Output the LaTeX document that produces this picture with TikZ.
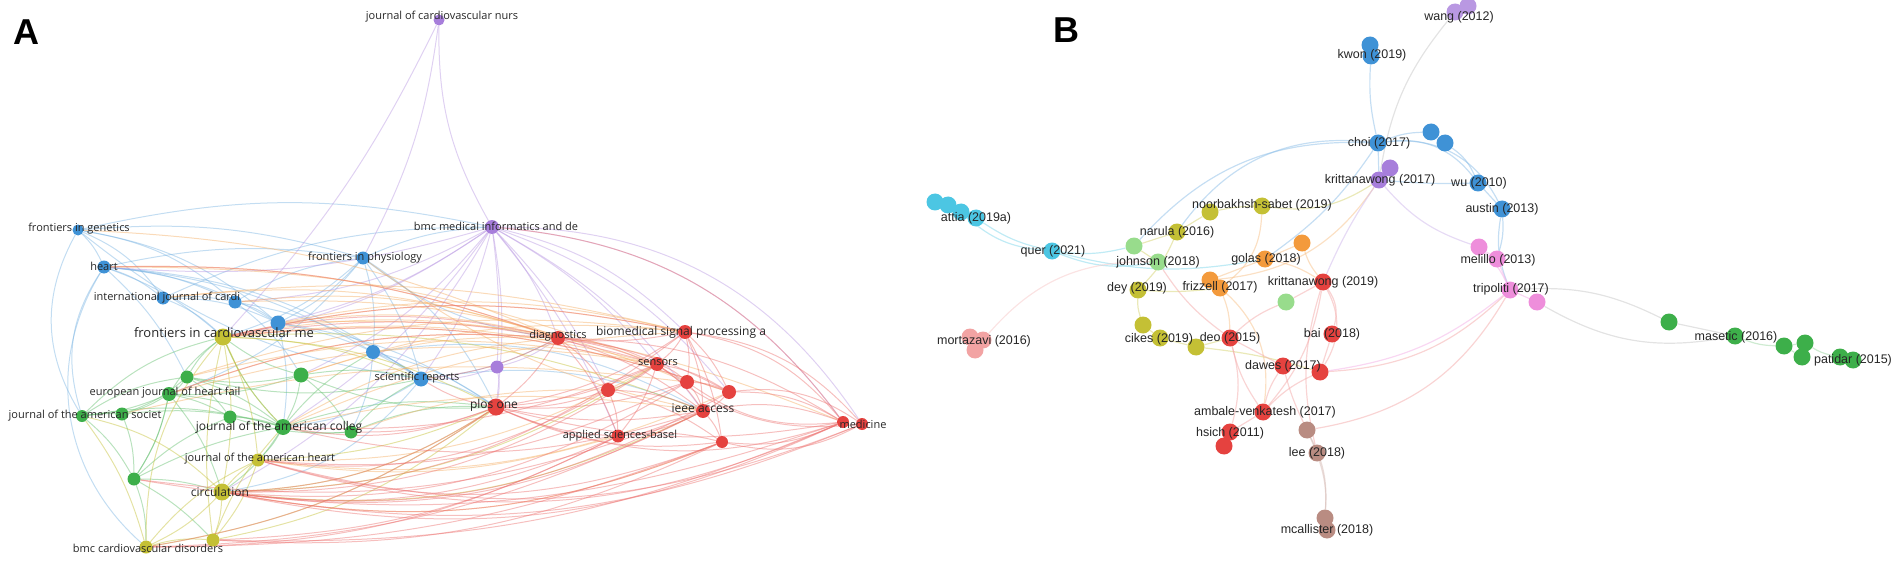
\documentclass[tikz,border=0pt]{standalone}
\usepackage{fontspec}
\setmainfont{Open Sans}
\newfontfamily\arialf{Liberation Sans}
\usetikzlibrary{backgrounds}
\definecolor{cRed}{HTML}{E5423F}
\definecolor{cGreen}{HTML}{3DAF4A}
\definecolor{cBlue}{HTML}{3F92D6}
\definecolor{cYel}{HTML}{C4C035}
\definecolor{cPur}{HTML}{A77EDB}
\definecolor{cOra}{HTML}{F39A3C}
\definecolor{cCyan}{HTML}{4CC6E3}
\definecolor{cLGreen}{HTML}{98DC8C}
\definecolor{cPink}{HTML}{EE8EDB}
\definecolor{cBrown}{HTML}{B98C82}
\definecolor{cSalmon}{HTML}{F2A3A3}
\definecolor{cGrey}{HTML}{C8C8C8}
\definecolor{txt}{HTML}{262626}
\tikzset{
  nd/.style={circle, inner sep=0pt, minimum size=#1},
  ea/.style={line width=1pt, opacity=0.45},
  eb/.style={line width=1.2pt, opacity=0.5},
  labA/.style={font=\fontsize{#1}{#1}\selectfont, text=txt, inner sep=0pt},
  labB/.style={font=\arialf\fontsize{12.5}{12.5}\selectfont, text=txt, inner sep=0pt},
  panel/.style={font=\arialf\bfseries\fontsize{36}{36}\selectfont, text=black, inner sep=0pt}
}
\begin{document}
\begin{tikzpicture}[x=1pt,y=-1pt]
\useasboundingbox (0,0) rectangle (1900,564);
% ---------------- Panel A nodes ----------------
\node[nd=11, fill=cPur] (jcn) at (439,20) {};
\node[nd=11, fill=cBlue] (fig) at (78,230) {};
\node[nd=13, fill=cBlue] (heart) at (104,267) {};
\node[nd=13, fill=cBlue] (fphys) at (363,258) {};
\node[nd=14, fill=cPur] (bmcmi) at (492,227) {};
\node[nd=13, fill=cBlue] (ijc1) at (163,298) {};
\node[nd=13, fill=cBlue] (ijc2) at (235,302) {};
\node[nd=15, fill=cBlue] (b1) at (278,323) {};
\node[nd=17, fill=cYel] (fcm) at (223,337) {};
\node[nd=14, fill=cBlue] (b2) at (373,352) {};
\node[nd=15, fill=cBlue] (sr) at (421,379) {};
\node[nd=13, fill=cGreen] (g1) at (187,377) {};
\node[nd=15, fill=cGreen] (g2) at (301,375) {};
\node[nd=14, fill=cGreen] (ejhf) at (169,394) {};
\node[nd=12, fill=cGreen] (jas1) at (82,416) {};
\node[nd=13, fill=cGreen] (jas2) at (122,414) {};
\node[nd=13, fill=cGreen] (g3) at (230,417) {};
\node[nd=16, fill=cGreen] (jacc) at (283,427) {};
\node[nd=13, fill=cGreen] (g4) at (351,432) {};
\node[nd=13, fill=cYel] (jah) at (258,460) {};
\node[nd=13, fill=cGreen] (g5) at (134,479) {};
\node[nd=17, fill=cYel] (circ) at (222,492) {};
\node[nd=13, fill=cYel] (bmccd) at (146,547) {};
\node[nd=13, fill=cYel] (y2) at (213,540) {};
\node[nd=14, fill=cRed] (diag) at (558,338) {};
\node[nd=14, fill=cRed] (bsp) at (685,332) {};
\node[nd=13, fill=cPur] (p1) at (497,367) {};
\node[nd=14, fill=cRed] (sens) at (657,364) {};
\node[nd=14, fill=cRed] (r1) at (687,382) {};
\node[nd=14, fill=cRed] (r2) at (608,390) {};
\node[nd=14, fill=cRed] (r3) at (729,392) {};
\node[nd=17, fill=cRed] (plos) at (496,407) {};
\node[nd=14, fill=cRed] (ieee) at (703,411) {};
\node[nd=13, fill=cRed] (asb) at (618,436) {};
\node[nd=12, fill=cRed] (r4) at (722,442) {};
\node[nd=12, fill=cRed] (med1) at (843,422) {};
\node[nd=12, fill=cRed] (med2) at (862,424) {};
% ---------------- Panel A edges ----------------
\begin{scope}[on background layer]
\foreach \s/\t/\b in {fig/heart/10, fig/ijc1/15, fig/ijc2/15, fig/b1/15, fig/fphys/10, fig/bmcmi/12, heart/ijc1/10, heart/ijc2/10, heart/b1/12, heart/fcm/10, heart/sr/15, heart/b2/12, heart/bmccd/-40, heart/jas1/-25, ijc1/ijc2/8, ijc1/fcm/10, ijc1/b1/12, ijc2/b1/10, ijc2/fphys/12, ijc2/sr/12, b1/fphys/-10, b1/sr/10, b1/plos/12, fphys/b2/10, fphys/sr/10, fphys/bmcmi/10, fphys/plos/15, fphys/diag/-15, fphys/fcm/12, fphys/ejhf/15, b2/sr/8, sr/plos/10, sr/diag/-10, sr/ieee/15, b2/plos/10, heart/g1/10, b1/jacc/10, ijc2/g2/10, sr/jacc/12, b2/g4/10, fig/sr/-15, heart/fphys/10, ijc1/bmcmi/12, fig/jas1/-30, b2/ieee/18, sr/circ/20}
  {\draw[ea, cBlue!70] (\s) to[bend left=\b] (\t);}
\foreach \s/\t/\b in {jcn/bmcmi/-15, jcn/fphys/10, jcn/fcm/8, bmcmi/b1/10, bmcmi/ijc2/12, bmcmi/sr/10, bmcmi/plos/8, bmcmi/diag/10, bmcmi/bsp/15, bmcmi/sens/10, bmcmi/r2/8, bmcmi/ieee/12, bmcmi/med1/24, bmcmi/r3/15, bmcmi/p1/5, bmcmi/asb/8, bmcmi/jacc/10, bmcmi/fcm/12, bmcmi/circ/15, p1/plos/10, p1/diag/-10, p1/sr/10, bmcmi/heart/10, bmcmi/med2/28, bmcmi/g2/12}
  {\draw[ea, cPur!80] (\s) to[bend left=\b] (\t);}
\foreach \s/\t/\b in {g1/ejhf/10, g1/fcm/10, g1/jacc/10, g1/jas2/10, g1/g3/10, ejhf/jas1/8, ejhf/jas2/8, ejhf/g3/8, ejhf/jacc/10, ejhf/circ/10, ejhf/g5/10, jas1/jas2/5, jas1/g5/10, jas2/g5/10, g5/jacc/8, g5/circ/8, g5/bmccd/10, g5/y2/8, g3/jacc/8, g2/jacc/10, g2/fcm/10, g2/g4/10, g2/sr/10, g4/jacc/8, g4/sr/10, g4/plos/12, jacc/circ/10, jacc/jah/8, jacc/fcm/10, jacc/b2/10, g2/ejhf/10, g2/g1/10, jas1/jacc/12, jas2/jacc/10, g4/g3/10, jacc/plos/12, ejhf/fcm/10, jas1/fcm/15, jas1/g1/12, g5/g3/10, g5/ejhf/-10, g2/plos/-12, g1/sr/-12}
  {\draw[ea, cGreen!80] (\s) to[bend left=\b] (\t);}
\foreach \s/\t/\b in {fcm/circ/10, fcm/jah/10, fcm/jacc/-10, fcm/plos/12, fcm/sr/10, circ/jah/8, circ/bmccd/10, circ/y2/8, bmccd/y2/10, jah/y2/10, jah/plos/-10, circ/plos/-15, circ/sens/-15, circ/ieee/-16, bmccd/jah/12, y2/jacc/10, fcm/ieee/12, bmccd/fcm/20, y2/fcm/10, jas1/circ/15, jas1/bmccd/10, y2/plos/-14, bmccd/plos/-12}
  {\draw[ea, cYel] (\s) to[bend left=\b] (\t);}
\foreach \s/\t/\b in {fcm/bsp/12, fcm/sens/10, ijc2/diag/12, b1/diag/10, fphys/ieee/-12, g2/diag/10, jacc/ieee/10, jah/asb/-12, circ/r4/-16, g4/r2/10, fcm/diag/10, jacc/bsp/10, ejhf/diag/12, jah/r3/-15, g1/sens/12, heart/diag/10, b1/bsp/12, jah/sens/-15, ijc1/bsp/10, heart/sens/10, fcm/r3/12, b1/med1/12, ijc2/r1/12, fig/diag/10, g1/bsp/12, ejhf/sens/12, g2/bsp/12, jacc/diag/12, ijc1/diag/12, jas2/r1/10}
  {\draw[ea, cOra!80] (\s) to[bend left=\b] (\t);}
\foreach \s/\t/\b in {diag/plos/10, diag/bsp/-8, diag/sens/10, diag/r1/10, diag/r2/10, diag/ieee/10, diag/r3/10, diag/asb/10, diag/med1/15, bsp/sens/10, bsp/r1/10, bsp/r3/10, bsp/ieee/10, bsp/med1/20, bsp/r4/10, bsp/plos/12, sens/r1/10, sens/r2/10, sens/ieee/10, sens/r3/10, sens/plos/10, sens/asb/10, r1/ieee/10, r1/r3/10, r1/plos/10, r2/plos/10, r2/ieee/10, r2/asb/10, r2/r4/10, r3/ieee/10, r3/med1/15, r3/med2/20, ieee/asb/10, ieee/r4/10, ieee/med1/15, ieee/plos/10, asb/plos/10, asb/r4/10, r4/med1/-15, r4/med2/-20, plos/med1/-20, plos/r4/-15, plos/sr/10, diag/sr/10, plos/g4/10, plos/jacc/15, med1/circ/18, med2/jah/18, r4/circ/16, asb/circ/15, ieee/jacc/15, sens/fcm/-12, r3/fcm/-12, bsp/fcm/-12, diag/fcm/-12, diag/heart/-10, med1/bmcmi/-24, med2/bsp/-20, r4/bmccd/10, asb/y2/12, med1/plos/12, r1/jah/15, ieee/circ/17, sens/jacc/12, diag/ejhf/-12, med1/jah/20, med2/circ/16, r4/jah/18, ieee/bmccd/12, asb/bmccd/13, r3/circ/18, r1/circ/18, sens/circ/17, bsp/circ/18, r2/jah/18, plos/circ/15, plos/bmccd/12, r4/y2/14, med1/y2/12, med1/g5/14, ieee/g5/14, med2/sens/22, med1/r1/20}
  {\draw[ea, cRed!75] (\s) to[bend left=\b] (\t);}
\end{scope}
% ---------------- Panel A labels ----------------
\node[panel] (lA) at (26,32) {A};
\node[labA=11] (ljcn) at (442,17) {journal of cardiovascular nurs};
\node[labA=11] (lfig) at (79,229) {frontiers in genetics};
\node[labA=11] (lheart) at (104,266) {heart};
\node[labA=11] (lfphys) at (365,258) {frontiers in physiology};
\node[labA=11] (lbmcmi) at (496,226) {bmc medical informatics and de};
\node[labA=11] (lijc) at (167,298) {international journal of cardi};
\node[labA=13] (lfcm) at (224,333) {frontiers in cardiovascular me};
\node[labA=11] (lsr) at (417,378) {scientific reports};
\node[labA=11] (lejhf) at (165,393) {european journal of heart fail};
\node[labA=11] (ljas) at (85,416) {journal of the american societ};
\node[labA=12] (ljacc) at (279,427) {journal of the american colleg};
\node[labA=11] (ljah) at (260,459) {journal of the american heart};
\node[labA=12] (lcirc) at (220,492) {circulation};
\node[labA=11] (lbmccd) at (148,548) {bmc cardiovascular disorders};
\node[labA=11] (ldiag) at (558,336) {diagnostics};
\node[labA=12] (lbsp) at (681,332) {biomedical signal processing a};
\node[labA=11] (lsens) at (658,363) {sensors};
\node[labA=12] (lplos) at (494,405) {plos one};
\node[labA=12] (lieee) at (703,408) {ieee access};
\node[labA=11] (lasb) at (620,436) {applied sciences-basel};
\node[labA=11] (lmed) at (863,424) {medicine};
% ---------------- Panel B nodes ----------------
\node[nd=17, fill=cPur!80] (wang1) at (1455,12) {};
\node[nd=17, fill=cPur!80] (wang2) at (1468,6) {};
\node[nd=17, fill=cBlue] (kwon1) at (1370,45) {};
\node[nd=17, fill=cBlue] (kwon2) at (1371,56) {};
\node[nd=17, fill=cBlue] (choi) at (1378,143) {};
\node[nd=17, fill=cBlue] (bl1) at (1431,132) {};
\node[nd=17, fill=cBlue] (bl2) at (1445,143) {};
\node[nd=17, fill=cBlue] (wu) at (1478,183) {};
\node[nd=17, fill=cBlue] (austin) at (1502,209) {};
\node[nd=17, fill=cPur] (kr17b) at (1390,168) {};
\node[nd=17, fill=cPur] (kr17) at (1379,180) {};
\node[nd=17, fill=cYel] (noor1) at (1210,212) {};
\node[nd=17, fill=cYel] (noor2) at (1262,206) {};
\node[nd=17, fill=cYel] (narula) at (1177,232) {};
\node[nd=17, fill=cLGreen] (lg1) at (1134,246) {};
\node[nd=17, fill=cLGreen] (johnson) at (1158,262) {};
\node[nd=17, fill=cOra] (golas) at (1265,259) {};
\node[nd=17, fill=cOra] (or2) at (1302,243) {};
\node[nd=17, fill=cRed] (kr19) at (1323,282) {};
\node[nd=17, fill=cOra] (friz1) at (1210,280) {};
\node[nd=17, fill=cOra] (friz2) at (1220,288) {};
\node[nd=17, fill=cYel] (dey) at (1138,290) {};
\node[nd=17, fill=cLGreen] (lg2) at (1286,302) {};
\node[nd=17, fill=cPink] (mel1) at (1479,247) {};
\node[nd=17, fill=cPink] (mel2) at (1497,259) {};
\node[nd=17, fill=cPink] (trip1) at (1510,290) {};
\node[nd=17, fill=cPink] (trip2) at (1537,302) {};
\node[nd=17, fill=cGreen] (gr1) at (1669,322) {};
\node[nd=17, fill=cGreen] (masetic) at (1735,336) {};
\node[nd=17, fill=cGreen] (gr3) at (1784,346) {};
\node[nd=17, fill=cGreen] (gr4) at (1805,343) {};
\node[nd=17, fill=cGreen] (gr5) at (1802,357) {};
\node[nd=17, fill=cGreen] (gr6) at (1840,357) {};
\node[nd=17, fill=cGreen] (patidar) at (1853,360) {};
\node[nd=17, fill=cCyan] (at1) at (935,202) {};
\node[nd=17, fill=cCyan] (at2) at (948,205) {};
\node[nd=17, fill=cCyan] (at3) at (961,212) {};
\node[nd=17, fill=cCyan] (attia) at (976,218) {};
\node[nd=17, fill=cCyan] (quer) at (1052,251) {};
\node[nd=17, fill=cSalmon] (mort1) at (970,337) {};
\node[nd=17, fill=cSalmon] (mort2) at (983,340) {};
\node[nd=17, fill=cSalmon] (mort3) at (975,350) {};
\node[nd=17, fill=cYel] (cik1) at (1143,325) {};
\node[nd=17, fill=cYel] (cikes) at (1160,338) {};
\node[nd=17, fill=cYel] (cik3) at (1196,347) {};
\node[nd=17, fill=cRed] (deo) at (1230,338) {};
\node[nd=17, fill=cRed] (bai) at (1332,334) {};
\node[nd=17, fill=cRed] (dawes) at (1283,366) {};
\node[nd=17, fill=cRed] (dawes2) at (1320,372) {};
\node[nd=17, fill=cRed] (ambale) at (1263,412) {};
\node[nd=17, fill=cBrown] (brown) at (1307,430) {};
\node[nd=17, fill=cRed] (hsich) at (1230,432) {};
\node[nd=17, fill=cRed] (hsich2) at (1224,446) {};
\node[nd=17, fill=cBrown] (lee) at (1317,453) {};
\node[nd=17, fill=cBrown] (mc1) at (1325,518) {};
\node[nd=17, fill=cBrown] (mc2) at (1327,530) {};
% ---------------- Panel B edges ----------------
\begin{scope}[on background layer]
\foreach \s/\t/\b in {kwon2/choi/-8, choi/bl1/10, bl1/bl2/0, bl2/wu/15, choi/wu/30, choi/austin/35, wu/austin/0, choi/kr17/0, kr17/wu/-3, austin/mel2/10, austin/trip1/-15, choi/narula/-30, choi/golas/10, choi/lg1/-25}
  {\draw[eb, cBlue!60] (\s) to[bend left=\b] (\t);}
\draw[eb, cGrey] (wang1) to[bend left=-15] (kr17);
\foreach \s/\t/\b in {at1/at2/0, at2/at3/0, at3/attia/0, attia/quer/-10, at3/quer/-18, quer/johnson/-15, quer/lg1/-10, quer/golas/-12}
  {\draw[eb, cCyan!70] (\s) to[bend left=\b] (\t);}
\foreach \s/\t/\b in {narula/noor1/0, noor1/noor2/5, noor2/kr17/-20, narula/dey/10, dey/cik1/-10, cik1/cikes/0, cikes/cik3/0, cik3/deo/0, cik3/dawes2/5, dey/friz2/-5, narula/lg1/0, lg1/johnson/0}
  {\draw[eb, cYel!70] (\s) to[bend left=\b] (\t);}
\foreach \s/\t/\b in {golas/or2/0, golas/friz1/0, friz2/deo/10, friz1/ambale/30, or2/kr19/-10, golas/kr19/10, noor2/friz2/25, kr17/friz1/25}
  {\draw[eb, cOra!60] (\s) to[bend left=\b] (\t);}
\foreach \s/\t/\b in {kr19/bai/25, kr19/dawes2/30, kr19/ambale/15, kr19/lg2/0, lg2/deo/-10, deo/dawes/0, deo/ambale/-10, deo/hsich/15, dawes/ambale/-10, dawes/brown/-5, bai/dawes2/0, dawes2/ambale/-10, dawes2/trip1/-20, brown/trip1/-25, ambale/hsich/0, hsich/hsich2/0, kr19/lee/-15, johnson/deo/-10}
  {\draw[eb, cRed!45] (\s) to[bend left=\b] (\t);}
\foreach \s/\t/\b in {brown/lee/0, lee/mc1/10, brown/mc1/15, mc1/mc2/0}
  {\draw[eb, cBrown!60] (\s) to[bend left=\b] (\t);}
\foreach \s/\t/\b in {kr17/kr17b/0, kr17/kr19/-5, kr17/mel1/-15}
  {\draw[eb, cPur!55] (\s) to[bend left=\b] (\t);}
\foreach \s/\t/\b in {mel1/mel2/0, mel2/trip1/0, trip1/trip2/0, mel1/trip1/10, trip1/dawes2/15}
  {\draw[eb, cPink!70] (\s) to[bend left=\b] (\t);}
\foreach \s/\t/\b in {trip1/gr1/15, gr1/masetic/0, trip2/masetic/-20}
  {\draw[eb, cGrey] (\s) to[bend left=\b] (\t);}
\foreach \s/\t/\b in {masetic/gr3/-10, gr3/gr4/0, gr4/gr5/0, gr4/gr6/-10, gr6/patidar/0, gr3/gr5/0}
  {\draw[eb, cGreen!50] (\s) to[bend left=\b] (\t);}
\draw[eb, cSalmon!60] (mort2) to[bend left=25] (johnson);
\end{scope}
% ---------------- Panel B labels ----------------
\node[panel] (lB) at (1066,30) {B};
\node[labB] (lwang) at (1459,17) {wang (2012)};
\node[labB] (lkwon) at (1372,55) {kwon (2019)};
\node[labB] (lchoi) at (1379,143) {choi (2017)};
\node[labB] (lkr17) at (1380,180) {krittanawong (2017)};
\node[labB] (lwu) at (1479,183) {wu (2010)};
\node[labB] (laustin) at (1502,209) {austin (2013)};
\node[labB] (lnoor) at (1262,205) {noorbakhsh-sabet (2019)};
\node[labB] (lnarula) at (1177,232) {narula (2016)};
\node[labB] (lattia) at (976,218) {attia (2019a)};
\node[labB] (lquer) at (1053,251) {quer (2021)};
\node[labB] (ljohnson) at (1158,262) {johnson (2018)};
\node[labB] (lgolas) at (1266,259) {golas (2018)};
\node[labB] (lkr19) at (1323,282) {krittanawong (2019)};
\node[labB] (lfriz) at (1220,287) {frizzell (2017)};
\node[labB] (ldey) at (1137,288) {dey (2019)};
\node[labB] (lmel) at (1498,260) {melillo (2013)};
\node[labB] (ltrip) at (1511,289) {tripoliti (2017)};
\node[labB] (lmort) at (984,341) {mortazavi (2016)};
\node[labB] (lcikes) at (1159,339) {cikes (2019)};
\node[labB] (ldeo) at (1230,338) {deo (2015)};
\node[labB] (lbai) at (1332,334) {bai (2018)};
\node[labB] (ldawes) at (1283,366) {dawes (2017)};
\node[labB] (lambale) at (1265,412) {ambale-venkatesh (2017)};
\node[labB] (lhsich) at (1230,433) {hsich (2011)};
\node[labB] (llee) at (1317,453) {lee (2018)};
\node[labB] (lmc) at (1327,530) {mcallister (2018)};
\node[labB] (lmas) at (1736,337) {masetic (2016)};
\node[labB] (lpat) at (1853,360) {patidar (2015)};
\end{tikzpicture}
\end{document}
